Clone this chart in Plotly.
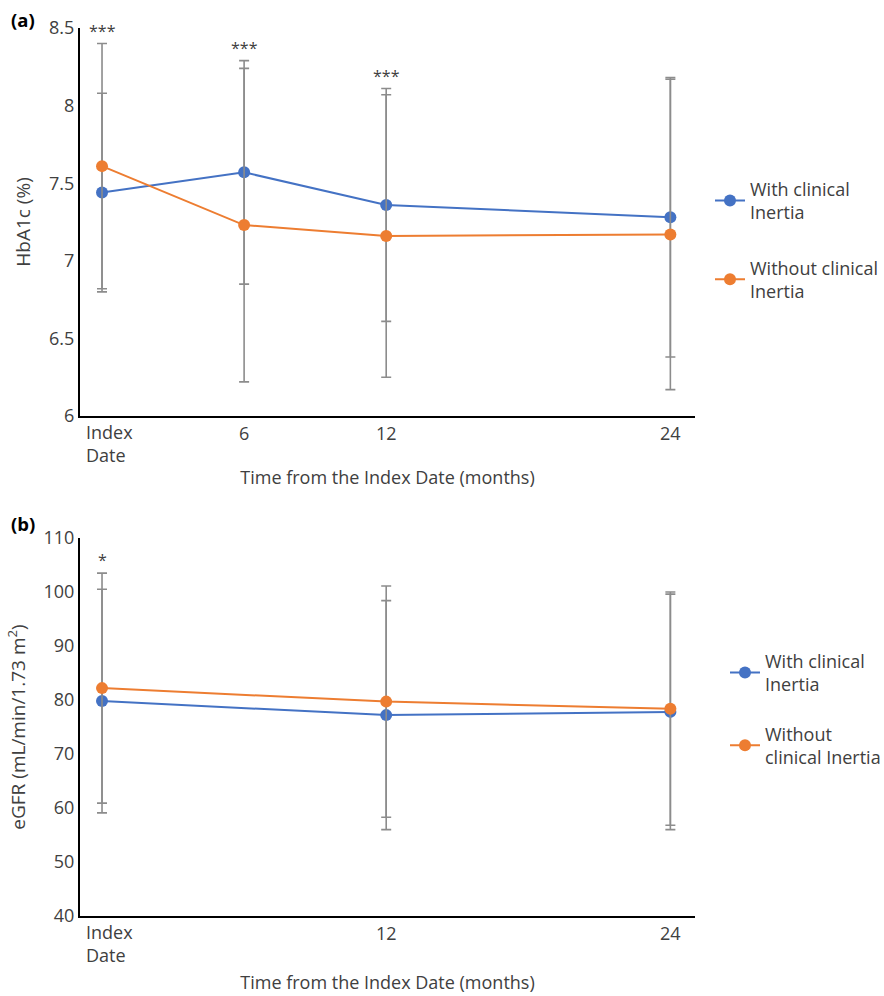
import plotly.graph_objects as go

# ---------------- data ----------------
months_a = [0, 6, 12, 24]
hba1c_with = [7.44, 7.57, 7.36, 7.28]
hba1c_with_sd = [0.64, 0.72, 0.75, 0.90]
hba1c_without = [7.61, 7.23, 7.16, 7.17]
hba1c_without_sd = [0.79, 1.01, 0.91, 1.00]
stars_a = ["***", "***", "***", ""]

months_b = [0, 12, 24]
egfr_with = [79.8, 77.2, 77.8]
egfr_with_sd = [20.7, 21.2, 21.8]
egfr_without = [82.2, 79.7, 78.4]
egfr_without_sd = [21.3, 21.4, 21.6]
stars_b = ["*", "", ""]

x_tick_vals_a = [6, 12, 24]
x_tick_text_a = ["6", "12", "24"]
x_tick_vals_b = [12, 24]
x_tick_text_b = ["12", "24"]
index_label = "Index<br>Date"

series_names = ["With clinical<br>Inertia", "Without clinical<br>Inertia"]
series_names_b = ["With clinical<br>Inertia", "Without<br>clinical Inertia"]

BLUE = "#4472C4"
ORANGE = "#ED7D31"
GREY = "#8C8C8C"
TXT = "#404040"
FONT = "Open Sans"

W, H = 884, 996
fig = go.Figure()

def px_x(p):
    return p / W

def px_y(p):
    return 1 - p / H

def add_series(x, y, sd, color, name, xa, ya, legend, group):
    fig.add_trace(go.Scatter(
        x=x, y=y, name=name, mode="lines+markers",
        line=dict(color=color, width=2),
        marker=dict(color=color, size=12),
        error_y=dict(type="data", array=sd, symmetric=True, color=GREY,
                     thickness=1.6, width=5),
        xaxis=xa, yaxis=ya, legend=legend, legendgroup=group,
        cliponaxis=False,
    ))

add_series(months_a, hba1c_with, hba1c_with_sd, BLUE, series_names[0], "x", "y", "legend", "a1")
add_series(months_a, hba1c_without, hba1c_without_sd, ORANGE, series_names[1], "x", "y", "legend", "a2")
add_series(months_b, egfr_with, egfr_with_sd, BLUE, series_names_b[0], "x2", "y2", "legend2", "b1")
add_series(months_b, egfr_without, egfr_without_sd, ORANGE, series_names_b[1], "x2", "y2", "legend2", "b2")

annotations = []
# significance stars
for xv, a, sa, b, sb, s in zip(months_a, hba1c_with, hba1c_with_sd, hba1c_without, hba1c_without_sd, stars_a):
    if s:
        annotations.append(dict(x=xv, y=max(a + sa, b + sb), xref="x", yref="y", text=s,
                                showarrow=False, yanchor="bottom", yshift=0,
                                font=dict(family=FONT, size=16, color=TXT)))
for xv, a, sa, b, sb, s in zip(months_b, egfr_with, egfr_with_sd, egfr_without, egfr_without_sd, stars_b):
    if s:
        annotations.append(dict(x=xv, y=max(a + sa, b + sb), xref="x2", yref="y2", text=s,
                                showarrow=False, yanchor="bottom", yshift=0,
                                font=dict(family=FONT, size=16, color=TXT)))
# index date labels
for xr, yr, ybase in [("x", "y", 6), ("x2", "y2", 40)]:
    annotations.append(dict(x=0, y=ybase, xref=xr, yref=yr, text=index_label, align="left",
                            showarrow=False, xanchor="left", yanchor="top", xshift=-18, yshift=-2,
                            font=dict(family=FONT, size=18, color=TXT)))
# panel labels
annotations.append(dict(x=px_x(9), y=px_y(5), xref="paper", yref="paper", text="<b>(a)</b>",
                        showarrow=False, xanchor="left", yanchor="top",
                        font=dict(family=FONT, size=18.5, color="black")))
annotations.append(dict(x=px_x(9), y=px_y(509), xref="paper", yref="paper", text="<b>(b)</b>",
                        showarrow=False, xanchor="left", yanchor="top",
                        font=dict(family=FONT, size=18.5, color="black")))

axis_common = dict(showline=True, linecolor="black", linewidth=2, showgrid=False,
                   zeroline=False, ticks="", automargin=False,
                   tickfont=dict(family=FONT, size=18, color=TXT))
xtitle_font = dict(family=FONT, size=18, color=TXT)
ytitle_font = dict(family=FONT, size=19, color=TXT)

xdom = [px_x(80), px_x(695)]
fig.update_layout(
    width=W, height=H,
    margin=dict(l=0, r=0, t=0, b=0, autoexpand=False),
    paper_bgcolor="white", plot_bgcolor="white",
    font=dict(family=FONT, color=TXT),
    xaxis=dict(domain=xdom, range=[-0.93, 25.04], tickvals=x_tick_vals_a, ticktext=x_tick_text_a,
               anchor="y", title=dict(text="Time from the Index Date (months)", standoff=28,
                                      font=xtitle_font),
               **axis_common),
    yaxis=dict(domain=[px_y(416), px_y(28)], range=[6, 8.5], dtick=0.5, tick0=6, anchor="x",
               title=dict(text="HbA1c (%)", standoff=13, font=ytitle_font), **axis_common),
    xaxis2=dict(domain=xdom, range=[-0.93, 25.04], tickvals=x_tick_vals_b, ticktext=x_tick_text_b,
                anchor="y2", title=dict(text="Time from the Index Date (months)", standoff=33,
                                        font=xtitle_font),
                **axis_common),
    yaxis2=dict(domain=[px_y(916), px_y(538)], range=[40, 110], dtick=10, anchor="x2",
                title=dict(text="eGFR (mL/min/1.73 m<sup>2</sup>)", standoff=13, font=ytitle_font),
                **axis_common),
    legend=dict(x=px_x(710), y=px_y(240), xanchor="left", yanchor="middle",
                font=dict(family=FONT, size=18, color=TXT), tracegroupgap=29,
                bgcolor="rgba(0,0,0,0)"),
    legend2=dict(x=px_x(725), y=px_y(709), xanchor="left", yanchor="middle",
                 font=dict(family=FONT, size=18, color=TXT), tracegroupgap=23,
                 bgcolor="rgba(0,0,0,0)"),
    annotations=annotations,
    showlegend=True,
)

fig.write_html("out.html")
